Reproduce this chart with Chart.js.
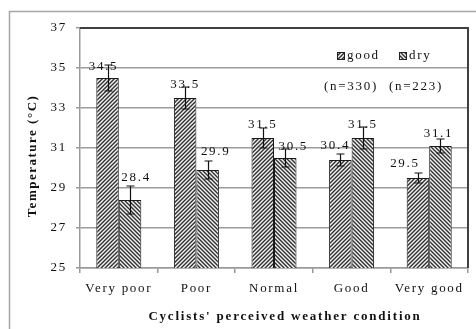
<!DOCTYPE html>
<html>
<head>
<meta charset="utf-8">
<script src="https://cdn.jsdelivr.net/npm/chart.js@4/dist/chart.umd.min.js"></script>
<style>
  html, body { margin: 0; padding: 0; background: #fff; }
  canvas { display: block; }
</style>
</head>
<body>
<canvas id="chart" width="476" height="329"></canvas>
<script>
// Mean temperature by cyclists' perceived weather condition, two groups
const categories = ['Very poor', 'Poor', 'Normal', 'Good', 'Very good'];
const seriesNames = ['good', 'dry'];
const goodMeans = [34.5, 33.5, 31.5, 30.4, 29.5];
const dryMeans = [28.4, 29.9, 30.5, 31.5, 31.1];
const goodErrors = [0.65, 0.55, 0.5, 0.3, 0.25];
const dryErrors = [0.7, 0.45, 0.45, 0.55, 0.35];
const sampleSizes = [330, 223];
const yTicks = [25, 27, 29, 31, 33, 35, 37];
const xTitle = "Cyclists' perceived weather condition";
const yTitle = 'Temperature (°C)';

const SERIF = '"Liberation Serif", "Times New Roman", serif';
const SPACING = '1.7px';
const TEXT = '#111';

const canvas = document.getElementById('chart');
const ctx = canvas.getContext('2d');

// 4px diagonal hatch tiles: dir 1 = "/", dir -1 = "\"
function hatch(dir) {
  const t = document.createElement('canvas');
  t.width = t.height = 4;
  const g = t.getContext('2d');
  const img = g.createImageData(4, 4);
  const shades = [50, 125, 240, 170];
  for (let y = 0; y < 4; y++) {
    for (let x = 0; x < 4; x++) {
      const k = dir > 0 ? (x + y) % 4 : ((x - y) % 4 + 4) % 4;
      const v = shades[k];
      const i = (y * 4 + x) * 4;
      img.data[i] = v; img.data[i + 1] = v; img.data[i + 2] = v; img.data[i + 3] = 255;
    }
  }
  g.putImageData(img, 0, 0);
  return ctx.createPattern(t, 'repeat');
}
const fills = [hatch(1), hatch(-1)];
const errorSets = [goodErrors, dryErrors];

// Hand-placed value labels: [dx from bar centre, gap above bar top]
const labelPlacement = [
  [[-4, 8], [0, 10], [0, 10], [-5, 11], [-13, 11]],
  [[6, 19], [8, 15], [8, 8], [0, 10], [-2, 9]]
];

// Draws text starting from a measured left edge so centring is exact
function centredText(c, text, cx, cy) {
  const w = c.measureText(text).width;
  c.textAlign = 'left';
  c.fillText(text, cx - w / 2, cy);
}

const spacingPlugin = {
  id: 'spacing',
  beforeUpdate(chart) { chart.ctx.letterSpacing = SPACING; },
  beforeDraw(chart) {
    const c = chart.ctx;
    c.letterSpacing = SPACING;
    // outer frame
    c.save();
    c.strokeStyle = '#a6a6a6';
    c.lineWidth = 1.5;
    c.strokeRect(9.5, 11.5, 600, 400);
    c.restore();
  }
};

const plotBorderPlugin = {
  id: 'plotBorder',
  beforeDatasetsDraw(chart) {
    const {ctx: c, chartArea: a} = chart;
    c.save();
    c.strokeStyle = '#404040';
    c.lineWidth = 2;
    c.beginPath();
    c.moveTo(a.left, a.top);
    c.lineTo(a.right, a.top);
    c.lineTo(a.right, a.bottom);
    c.stroke();
    c.restore();
  }
};

const axisTitlePlugin = {
  id: 'axisTitles',
  afterDraw(chart) {
    const c = chart.ctx;
    c.save();
    c.fillStyle = TEXT;
    c.textBaseline = 'middle';
    c.font = 'bold 13px ' + SERIF;
    c.letterSpacing = '1.8px';
    centredText(c, xTitle, 285, 317);
    c.letterSpacing = '1.5px';
    c.translate(33, 156);
    c.rotate(-Math.PI / 2);
    centredText(c, yTitle, 0, 0);
    c.restore();
  }
};

const errorBarPlugin = {
  id: 'errorBars',
  afterDatasetsDraw(chart) {
    const c = chart.ctx;
    const yScale = chart.scales.y;
    c.save();
    c.strokeStyle = '#111';
    c.lineWidth = 1.2;
    chart.data.datasets.forEach((ds, di) => {
      const meta = chart.getDatasetMeta(di);
      meta.data.forEach((bar, i) => {
        const v = ds.data[i];
        const e = errorSets[di][i];
        const yTop = yScale.getPixelForValue(v + e);
        const yBot = yScale.getPixelForValue(v - e);
        const x = Math.round(bar.x) + 0.5;
        c.beginPath();
        c.moveTo(x, yTop); c.lineTo(x, yBot);
        c.moveTo(x - 4, yTop); c.lineTo(x + 4, yTop);
        c.moveTo(x - 4, yBot); c.lineTo(x + 4, yBot);
        c.stroke();
      });
    });
    c.restore();

    // value labels
    c.save();
    c.font = '13px ' + SERIF;
    c.fillStyle = TEXT;
    c.textBaseline = 'alphabetic';
    chart.data.datasets.forEach((ds, di) => {
      const meta = chart.getDatasetMeta(di);
      meta.data.forEach((bar, i) => {
        const [dx, gap] = labelPlacement[di][i];
        centredText(c, ds.data[i].toFixed(1), bar.x + dx, bar.y - gap);
      });
    });
    c.restore();
  }
};

const legendPlugin = {
  id: 'patternLegend',
  afterDraw(chart) {
    const {ctx: c, chartArea: a} = chart;
    c.save();
    c.font = '13px ' + SERIF;
    c.fillStyle = TEXT;
    c.textBaseline = 'middle';
    const boxX = [a.right - 131, a.right - 69];
    const ly = a.top + 28;
    chart.data.datasets.forEach((ds, di) => {
      c.fillStyle = fills[di];
      c.fillRect(boxX[di], ly - 3.5, 7, 7);
      c.strokeStyle = '#222';
      c.lineWidth = 1;
      c.strokeRect(boxX[di] + 0.5, ly - 3.5, 7, 7);
      c.fillStyle = TEXT;
      c.textAlign = 'left';
      c.fillText(ds.label, boxX[di] + 10, ly);
    });
    // sample sizes beneath the legend
    const nX = [a.right - 117, a.right - 52];
    sampleSizes.forEach((n, i) => {
      centredText(c, '(n=' + n + ')', nX[i], a.top + 59);
    });
    c.restore();
  }
};

new Chart(canvas, {
  type: 'bar',
  data: {
    labels: categories,
    datasets: [
      { label: seriesNames[0], data: goodMeans, backgroundColor: fills[0], borderColor: '#1a1a1a', borderWidth: 1 },
      { label: seriesNames[1], data: dryMeans, backgroundColor: fills[1], borderColor: '#1a1a1a', borderWidth: 1 }
    ]
  },
  options: {
    responsive: false,
    animation: false,
    events: [],
    categoryPercentage: 0.58,
    barPercentage: 1.0,
    layout: { padding: { top: 28, right: 8, left: 0, bottom: 0 } },
    plugins: {
      legend: { display: false },
      tooltip: { enabled: false }
    },
    scales: {
      x: {
        grid: { display: true, drawOnChartArea: false, drawTicks: true, tickLength: 5, color: '#999', lineWidth: 1.5, offset: true },
        border: { color: '#999', width: 1.5 },
        ticks: { font: { family: SERIF, size: 13 }, color: TEXT, padding: 8, maxRotation: 0, autoSkip: false },
        afterFit(s) { s.height = 61; }
      },
      y: {
        min: yTicks[0],
        max: yTicks[yTicks.length - 1],
        afterBuildTicks(s) { s.ticks = yTicks.map(v => ({ value: v })); },
        grid: { color: '#9c9c9c', lineWidth: 1.5, tickLength: 4, tickColor: '#999' },
        border: { color: '#999', width: 1.5 },
        ticks: { font: { family: SERIF, size: 13 }, color: TEXT, padding: 9 },
        afterFit(s) { s.width = 80; }
      }
    }
  },
  plugins: [spacingPlugin, plotBorderPlugin, errorBarPlugin, legendPlugin, axisTitlePlugin]
});
</script>
</body>
</html>
